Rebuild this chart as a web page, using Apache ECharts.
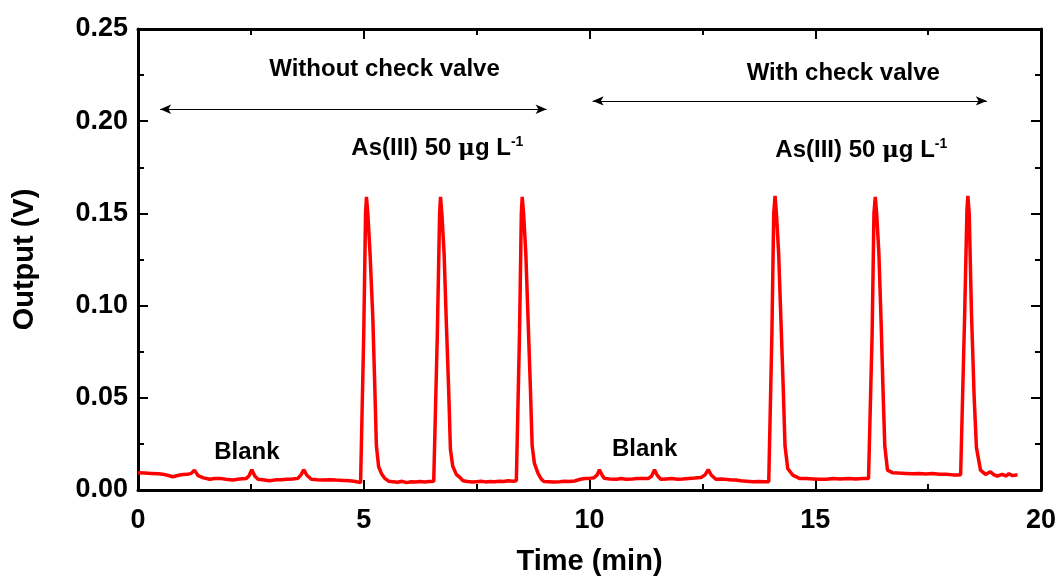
<!DOCTYPE html>
<html>
<head>
<meta charset="utf-8">
<script src="https://cdn.jsdelivr.net/npm/echarts@6/dist/echarts.min.js"></script>
<style>
  html, body { margin: 0; padding: 0; background: #ffffff; }
  #chart { width: 1060px; height: 583px; }
</style>
</head>
<body>
<div id="chart"></div>
<script>
// Detector output of the flow system, As(III) 50 ug/L injections and blanks.
// First run: without check valve (0-10 min)
const withoutValveTime = [
  0.00, 0.15, 0.30, 0.45, 0.55, 0.65, 0.77, 0.90, 1.00, 1.10, 1.18, 1.25, 1.33, 1.45, 1.59,
  1.70, 1.81, 1.95, 2.10, 2.25, 2.40, 2.46, 2.52, 2.59, 2.66, 2.80, 2.92, 3.05, 3.18, 3.29,
  3.42, 3.54, 3.61, 3.67, 3.74, 3.84, 3.97, 4.10, 4.25, 4.39, 4.55, 4.69, 4.82, 4.93,
  4.95, 5.00, 5.04, 5.06, 5.09, 5.14, 5.20, 5.24, 5.28, 5.33, 5.40, 5.46, 5.55,
  5.65, 5.75, 5.85, 5.95, 6.05, 6.15, 6.25, 6.35, 6.45, 6.55,
  6.58, 6.63, 6.68, 6.70, 6.73, 6.78, 6.83, 6.88, 6.92, 6.97, 7.05, 7.12, 7.20,
  7.30, 7.40, 7.50, 7.60, 7.70, 7.80, 7.90, 8.00, 8.10, 8.20, 8.30, 8.38,
  8.40, 8.45, 8.49, 8.51, 8.54, 8.59, 8.64, 8.69, 8.73, 8.78, 8.86, 8.93, 8.99,
  9.10, 9.20, 9.34, 9.45, 9.55, 9.67, 9.80, 9.90, 10.00
];
const withoutValveOutput = [
  0.0094, 0.0092, 0.0090, 0.0088, 0.0086, 0.0080, 0.0072, 0.0080, 0.0084, 0.0085, 0.0090, 0.0108, 0.0078, 0.0066, 0.0058,
  0.0062, 0.0063, 0.0058, 0.0054, 0.0060, 0.0063, 0.0077, 0.0110, 0.0075, 0.0058, 0.0054, 0.0050, 0.0055, 0.0056, 0.0058,
  0.0060, 0.0063, 0.0082, 0.0110, 0.0080, 0.0058, 0.0055, 0.0054, 0.0056, 0.0054, 0.0052, 0.0050, 0.0046, 0.0040,
  0.0040, 0.0850, 0.1500, 0.1590, 0.1500, 0.1280, 0.0940, 0.0600, 0.0240, 0.0126, 0.0085, 0.0065, 0.0048,
  0.0045, 0.0042, 0.0047, 0.0040, 0.0045, 0.0043, 0.0046, 0.0044, 0.0046, 0.0047,
  0.0048, 0.0850, 0.1500, 0.1590, 0.1500, 0.1280, 0.0900, 0.0550, 0.0220, 0.0130, 0.0085, 0.0070, 0.0050,
  0.0046, 0.0043, 0.0045, 0.0047, 0.0044, 0.0046, 0.0045, 0.0048, 0.0046, 0.0050, 0.0048, 0.0050,
  0.0050, 0.0850, 0.1500, 0.1590, 0.1500, 0.1280, 0.0920, 0.0560, 0.0240, 0.0144, 0.0090, 0.0060, 0.0046,
  0.0045, 0.0043, 0.0045, 0.0047, 0.0046, 0.0049, 0.0058, 0.0062, 0.0063
];
// Second run: with check valve (10-19.5 min)
const withValveTime = [
  10.10, 10.17, 10.22, 10.28, 10.33, 10.45, 10.60, 10.70, 10.81, 10.95, 11.05, 11.18, 11.30, 11.38, 11.44,
  11.50, 11.58, 11.70, 11.82, 11.95, 12.06, 12.20, 12.33, 12.47, 12.56, 12.63, 12.70, 12.80, 12.92, 13.05,
  13.15, 13.24, 13.35, 13.48, 13.61, 13.75, 13.88, 13.97,
  13.99, 14.04, 14.08, 14.11, 14.14, 14.19, 14.24, 14.29, 14.33, 14.39, 14.50, 14.65,
  14.80, 14.95, 15.10, 15.24, 15.40, 15.55, 15.75, 15.90, 16.05, 16.18,
  16.20, 16.26, 16.30, 16.33, 16.36, 16.41, 16.46, 16.50, 16.54, 16.60, 16.71,
  16.85, 17.00, 17.15, 17.30, 17.45, 17.60, 17.75, 17.90, 18.05, 18.15, 18.22,
  18.24, 18.31, 18.36, 18.38, 18.41, 18.46, 18.52, 18.57, 18.66, 18.77,
  18.88, 18.96, 19.03, 19.14, 19.22, 19.29, 19.37, 19.48
];
const withValveOutput = [
  0.0066, 0.0082, 0.0110, 0.0080, 0.0063, 0.0060, 0.0058, 0.0062, 0.0058, 0.0060, 0.0062, 0.0063, 0.0062, 0.0077, 0.0110,
  0.0080, 0.0058, 0.0060, 0.0062, 0.0058, 0.0060, 0.0063, 0.0065, 0.0068, 0.0082, 0.0110, 0.0080, 0.0058, 0.0060, 0.0057,
  0.0054, 0.0054, 0.0050, 0.0048, 0.0045, 0.0046, 0.0045, 0.0045,
  0.0045, 0.0850, 0.1500, 0.1595, 0.1500, 0.1280, 0.0920, 0.0560, 0.0240, 0.0117, 0.0081, 0.0063,
  0.0062, 0.0060, 0.0058, 0.0058, 0.0062, 0.0060, 0.0063, 0.0060, 0.0062, 0.0063,
  0.0063, 0.0850, 0.1500, 0.1590, 0.1500, 0.1280, 0.0900, 0.0550, 0.0240, 0.0108, 0.0094,
  0.0092, 0.0090, 0.0088, 0.0090, 0.0087, 0.0089, 0.0086, 0.0085, 0.0082, 0.0081, 0.0083,
  0.0085, 0.0960, 0.1520, 0.1595, 0.1500, 0.0960, 0.0500, 0.0230, 0.0108, 0.0085,
  0.0099, 0.0082, 0.0076, 0.0085, 0.0076, 0.0088, 0.0078, 0.0083
];

const xAxisTitle = 'Time (min)';
const yAxisTitle = 'Output (V)';
const regionLabels = ['Without check valve', 'With check valve'];
const sampleLabel = 'As(III) 50 {mu|\u03bc}g L{sup|-1}';
const blankLabel = 'Blank';

const trace = withoutValveTime.map((t, i) => [t, withoutValveOutput[i]])
  .concat(withValveTime.map((t, i) => [t, withValveOutput[i]]));

const FONT = '"Liberation Sans", Arial, Helvetica, sans-serif';
const black = '#000000';

function frameAxis(extra) {
  return Object.assign({
    type: 'value',
    axisLine: { show: true, onZero: false, lineStyle: { color: black, width: 3 } },
    axisTick: { show: true, inside: true, length: 10, lineStyle: { color: black, width: 2 } },
    minorTick: { show: true, splitNumber: 2, length: 6, lineStyle: { color: black, width: 2 } },
    splitLine: { show: false },
    minorSplitLine: { show: false }
  }, extra);
}

const labelStyle = {
  fontFamily: FONT, fontWeight: 'bold', fontSize: 24, color: black, opacity: 1,
  textBorderWidth: 0,
  rich: {
    mu: { fontFamily: '"DejaVu Serif", serif', fontWeight: 'bold', fontSize: 23, color: black },
    sup: { fontFamily: FONT, fontWeight: 'bold', fontSize: 14, color: black, padding: [0, 0, 14, 0] }
  }
};

const annotations = [
  { value: [5.46, 0.228], text: regionLabels[0] },
  { value: [15.62, 0.226], text: regionLabels[1] },
  { value: [6.63, 0.185], text: sampleLabel },
  { value: [16.02, 0.184], text: sampleLabel },
  { value: [2.41, 0.0205], text: blankLabel },
  { value: [11.22, 0.0222], text: blankLabel }
];

const chart = echarts.init(document.getElementById('chart'), null, { renderer: 'canvas' });
chart.setOption({
  backgroundColor: '#ffffff',
  animation: false,
  grid: { left: 138, right: 19, top: 29, bottom: 93, containLabel: false },
  xAxis: [
    frameAxis({
      min: 0, max: 20, interval: 5, position: 'bottom',
      name: xAxisTitle, nameLocation: 'middle', nameGap: 57,
      nameTextStyle: { fontFamily: FONT, fontWeight: 'bold', fontSize: 29, color: black },
      axisLabel: { show: true, margin: 17, fontFamily: FONT, fontWeight: 'bold', fontSize: 27, color: black }
    }),
    frameAxis({ min: 0, max: 20, interval: 5, position: 'top', axisLabel: { show: false } })
  ],
  yAxis: [
    frameAxis({
      min: 0, max: 0.25, interval: 0.05, position: 'left',
      name: yAxisTitle, nameLocation: 'middle', nameGap: 99, nameRotate: 90,
      nameTextStyle: { fontFamily: FONT, fontWeight: 'bold', fontSize: 29, color: black },
      axisLabel: {
        show: true, margin: 10, fontFamily: FONT, fontWeight: 'bold', fontSize: 27, color: black,
        formatter: v => v.toFixed(2)
      }
    }),
    frameAxis({ min: 0, max: 0.25, interval: 0.05, position: 'right', axisLabel: { show: false } })
  ],
  series: [
    {
      name: 'Output',
      type: 'line',
      xAxisIndex: 0, yAxisIndex: 0,
      data: trace,
      showSymbol: false,
      smooth: false,
      lineStyle: { color: '#ff0000', width: 3.5 },
      silent: true
    },
    {
      name: 'Annotations',
      type: 'scatter',
      xAxisIndex: 0, yAxisIndex: 0,
      symbolSize: 0,
      silent: true,
      itemStyle: { opacity: 1 },
      data: annotations.map(a => ({
        value: a.value,
        label: Object.assign({ show: true, position: 'inside', formatter: a.text }, labelStyle)
      })),
      markLine: {
        silent: true,
        symbol: ['arrow', 'arrow'],
        symbolSize: [7, 11],
        label: { show: false },
        lineStyle: { color: black, width: 1, type: 'solid', opacity: 1 },
        itemStyle: { color: black },
        data: [
          [{ coord: [0.49, 0.2065] }, { coord: [9.05, 0.2065] }],
          [{ coord: [10.07, 0.211] }, { coord: [18.80, 0.211] }]
        ]
      }
    }
  ]
});
</script>
</body>
</html>
